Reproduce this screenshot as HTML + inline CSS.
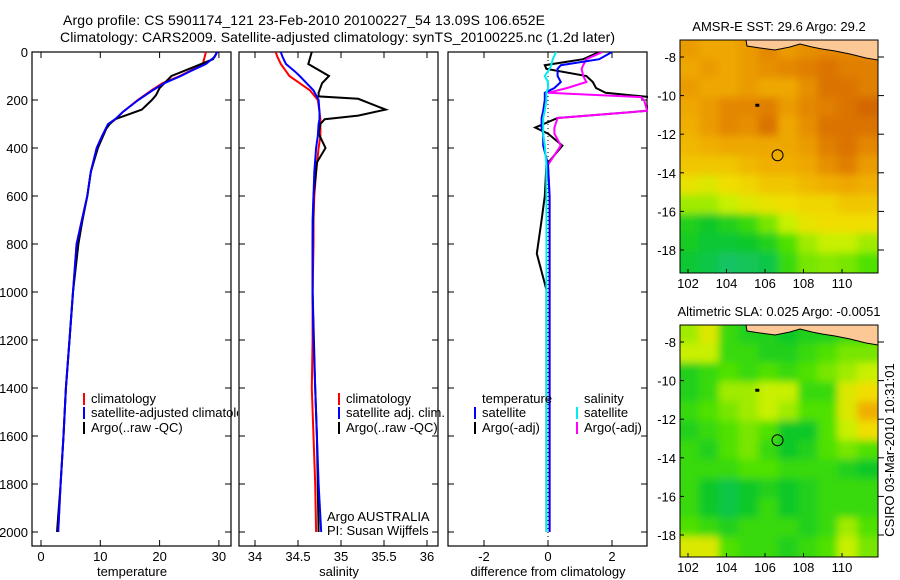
<!DOCTYPE html>
<html><head><meta charset="utf-8"><style>
body{margin:0;background:#fff}
svg{display:block;font-family:"Liberation Sans",sans-serif}
</style></head><body>
<svg id="fig" width="900" height="580" viewBox="0 0 900 580" xmlns="http://www.w3.org/2000/svg">
<defs>
<clipPath id="c1"><rect x="32" y="52" width="206" height="494"/></clipPath>
<clipPath id="c2"><rect x="239" y="52" width="200" height="494"/></clipPath>
<clipPath id="c3"><rect x="448" y="52" width="200" height="494"/></clipPath>
<clipPath id="cm1"><rect x="680" y="40" width="198" height="233"/></clipPath>
<clipPath id="cm2"><rect x="680" y="325" width="198" height="232"/></clipPath>
<filter id="bl" x="-20%" y="-20%" width="140%" height="140%"><feGaussianBlur stdDeviation="4"/></filter>
</defs>
<text x="63" y="25" font-size="14" textLength="482">Argo profile: CS 5901174_121 23-Feb-2010 20100227_54 13.09S 106.652E</text>
<text x="60" y="42" font-size="14" textLength="555">Climatology: CARS2009. Satellite-adjusted climatology: synTS_20100225.nc (1.2d later)</text>
<g id="root"></g>
<text transform="translate(894,450) rotate(-90)" font-size="13" text-anchor="middle">CSIRO 03-Mar-2010 10:31:01</text>
</svg>
<script>
// ---- profile data ----
const depthClim = [0,20,50,80,100,130,160,200,250,280,300,350,400,500,600,700,800,1000,1200,1400,1600,1800,2000];
const tempClim  = [27.8,27.6,27.3,25,23.4,20.5,18.6,16.3,13.8,12.6,11.4,10.3,9.4,8.4,7.8,6.9,6,5.4,4.8,4.2,3.8,3.3,2.9];
const tempSat   = [29.7,29.3,27.8,25.2,23.6,20.8,18.8,16.4,13.8,12.5,11.3,10.3,9.4,8.4,7.8,6.9,6,5.4,4.8,4.2,3.8,3.3,2.9];
const depthArgo = [0,30,60,100,150,180,200,240,280,300,320,400,500,600,700,800,1000,1200,1400,1600,1800,2000];
const tempArgo  = [29.7,29,26,22,20,19.4,18.7,17,12.5,11.6,11,9.6,8.4,7.8,7,6.3,5.4,4.8,4.2,3.8,3.3,2.7];
const salClim   = [34.24,34.26,34.3,34.36,34.4,34.52,34.64,34.73,34.75,34.76,34.76,34.76,34.74,34.71,34.69,34.68,34.68,34.67,34.67,34.66,34.68,34.7,34.71];
const salSat    = [34.3,34.32,34.36,34.46,34.52,34.6,34.68,34.74,34.75,34.75,34.74,34.73,34.71,34.69,34.68,34.67,34.67,34.67,34.68,34.7,34.72,34.74,34.77];
const depthSalArgo = [0,50,100,130,170,185,195,240,265,280,300,340,400,460,500,600,800,1000,1400,1600,2000];
const salArgo   = [34.66,34.62,34.86,34.78,34.74,34.74,35.2,35.52,35.2,34.81,34.76,34.74,34.82,34.72,34.71,34.68,34.67,34.67,34.7,34.72,34.74];
const depthDiff = [0,30,55,70,100,125,150,170,188,200,245,275,315,340,390,470,600,700,840,990,1200,1600,2000];
const diffTArgo = [1.6,1.1,-0.1,-0.05,1.2,1.4,1.5,1.8,3.2,3.2,3.1,0.3,-0.4,0,0.45,-0.05,-0.1,-0.2,-0.35,-0.05,-0.05,-0.05,-0.05];
const diffSArgo = [1.7,1.2,1.1,1.05,1.1,1.2,0.6,0,2.9,3.0,3.1,0.3,0.2,0.2,0.4,0,0.05,0.05,0.05,0.05,0.05,0.05,0.05];
const diffTSat  = [2.0,1.6,0.4,0.3,0.3,0.4,0.2,-0.1,-0.1,-0.1,-0.15,-0.2,-0.2,-0.15,-0.15,0,0.05,0.05,0.05,0.05,0.05,0.05,0.05];
const diffSSat  = [0.25,0.15,0.1,0.05,-0.1,0,0,-0.05,-0.05,-0.05,-0.1,-0.15,-0.15,-0.15,-0.1,-0.05,-0.05,-0.05,-0.05,-0.05,-0.05,-0.05,-0.05];
const depthTicks = [0,200,400,600,800,1000,1200,1400,1600,1800,2000];
const tempTicks = [0,10,20,30];
const salTicks = [34,34.5,35,35.5,36];
const diffTicks = [-2,0,2];
// ---- map data (normalized colour index 0..1) ----
const sstGrid = [
[.75,.72,.72,.75,.8,.75,.78,.8,.8,.8],
[.72,.75,.72,.75,.78,.8,.82,.85,.82,.82],
[.75,.72,.72,.75,.72,.72,.78,.85,.85,.82],
[.72,.75,.8,.8,.82,.75,.8,.82,.85,.88],
[.7,.75,.8,.78,.85,.72,.78,.85,.85,.85],
[.68,.7,.72,.72,.72,.72,.75,.82,.85,.8],
[.65,.65,.65,.68,.7,.7,.72,.78,.82,.75],
[.58,.55,.6,.62,.65,.65,.68,.7,.72,.7],
[.45,.45,.5,.55,.58,.6,.62,.62,.65,.65],
[.25,.2,.25,.3,.4,.5,.58,.6,.6,.6],
[.22,.18,.18,.2,.25,.35,.45,.5,.5,.45],
[.18,.15,.1,.12,.15,.3,.4,.42,.4,.35]];
const slaGrid = [
[.45,.55,.3,.25,.25,.2,.25,.25,.3,.3],
[.5,.5,.3,.3,.25,.25,.3,.35,.4,.4],
[.25,.3,.35,.3,.35,.3,.35,.4,.45,.5],
[.25,.3,.45,.45,.5,.5,.3,.3,.55,.6],
[.3,.35,.4,.45,.5,.45,.35,.35,.55,.7],
[.25,.3,.35,.4,.35,.2,.2,.35,.5,.6],
[.3,.25,.35,.4,.3,.2,.25,.35,.4,.35],
[.3,.3,.3,.35,.35,.3,.3,.3,.25,.2],
[.3,.2,.15,.2,.25,.2,.25,.3,.3,.3],
[.3,.2,.15,.2,.3,.2,.25,.3,.3,.3],
[.35,.3,.25,.3,.3,.3,.25,.3,.45,.35],
[.55,.55,.35,.3,.3,.25,.3,.35,.5,.4]];
const lonTicks = [102,104,106,108,110];
const latTicks = [-8,-10,-12,-14,-16,-18];
const floatLon = 106.652, floatLat = -13.09;

const NS="http://www.w3.org/2000/svg";
const root=document.getElementById('root');
function mk(tag,attrs,parent){const e=document.createElementNS(NS,tag);for(const k in attrs)e.setAttribute(k,attrs[k]);(parent||root).appendChild(e);return e;}
const yD=d=>52+d*0.24;
function panel(x0,name,xs,ticks,fmt,label,clip,ylabels){
  const g=mk('g',{});
  
  
  mk('rect',{x:x0,y:52,width:199,height:494,fill:'none',stroke:'#000','stroke-width':1.2},g);
  depthTicks.forEach(d=>{
    const y=yD(d);
    mk('line',{x1:x0,x2:x0+6,y1:y,y2:y,stroke:'#000'},g);
    mk('line',{x1:x0+199,x2:x0+193,y1:y,y2:y,stroke:'#000'},g);
    if(ylabels){const t=mk('text',{x:x0-4,y:y+5,'font-size':13,'text-anchor':'end'},g);t.textContent=d;
      
      }
  });
  ticks.forEach(v=>{
    const x=xs(v);
    mk('line',{x1:x,x2:x,y1:546,y2:540,stroke:'#000'},g);
    mk('line',{x1:x,x2:x,y1:52,y2:58,stroke:'#000'},g);
    const t=mk('text',{x:x,y:561,'font-size':13,'text-anchor':'middle'},g);t.textContent=fmt(v);
    
    
  });
  const t=mk('text',{x:x0+100,y:576,'font-size':13,'text-anchor':'middle'},g);t.textContent=label;
  
  
  return g;
}
function line(xs,vals,depths,color,name,clip,w){
  const p=vals.map((v,i)=>(i?'L':'M')+xs(v).toFixed(1)+','+yD(depths[i]).toFixed(1)).join('');
  const e=mk('path',{d:p,fill:'none',stroke:color,'stroke-width':w||2,'clip-path':'url(#'+clip+')'});
  
  
}
const xT=v=>41+5.93*v, xS=v=>255+86*(v-34), xF=v=>548+32*v;
panel(32,'temperature-panel',xT,tempTicks,v=>v,'temperature','c1',true);
panel(239,'salinity-panel',xS,salTicks,v=>v,'salinity','c2',false);
panel(448,'difference-panel',xF,diffTicks,v=>v,'difference from climatology','c3',false);
mk('line',{x1:xF(0),x2:xF(0),y1:52,y2:546,stroke:'#000','stroke-dasharray':'1,3'});
line(xT,tempClim,depthClim,'#f00','temp-climatology-line','c1');
line(xT,tempArgo,depthArgo,'#000','temp-argo-line','c1');
line(xT,tempSat,depthClim,'#00f','temp-satellite-line','c1');
line(xS,salClim,depthClim,'#f00','sal-climatology-line','c2');
line(xS,salArgo,depthSalArgo,'#000','sal-argo-line','c2');
line(xS,salSat,depthClim,'#00f','sal-satellite-line','c2');
line(xF,diffTArgo,depthDiff,'#000','diff-temp-argo-line','c3');
line(xF,diffSArgo,depthDiff,'#f0f','diff-sal-argo-line','c3');
line(xF,diffTSat,depthDiff,'#00f','diff-temp-sat-line','c3');
line(xF,diffSSat,depthDiff,'#0ee','diff-sal-sat-line','c3');
function leg(x,y,color,txt,name,clip){
  const g=mk('g',clip?{'clip-path':'url(#'+clip+')'}:{});
  
  
  if(color)mk('rect',{x:x,y:y-10,width:2,height:12,fill:color},g);
  const t=mk('text',{x:x+(color?8:0),y:y,'font-size':13},g);t.textContent=txt;
}
leg(83,403,'#f00','climatology','legend-temp-climatology','c1');
leg(83,417,'#00f','satellite-adjusted climatology','legend-temp-satellite','c1');
leg(83,432,'#000','Argo(..raw -QC)','legend-temp-argo','c1');
leg(338,403,'#f00','climatology','legend-sal-climatology');
leg(338,417,'#00f','satellite adj. clim.','legend-sal-satellite');
leg(338,432,'#000','Argo(..raw -QC)','legend-sal-argo');
leg(327,521,null,'Argo AUSTRALIA','institution-label');
leg(327,535,null,'PI: Susan Wijffels','pi-label');
leg(482,403,null,'temperature','legend-temperature-heading');
leg(474,417,'#00f','satellite','legend-diff-temp-sat');
leg(474,432,'#000','Argo(-adj)','legend-diff-temp-argo');
leg(584,403,null,'salinity','legend-salinity-heading');
leg(576,417,'#0ee','satellite','legend-diff-sal-sat');
leg(576,432,'#f0f','Argo(-adj)','legend-diff-sal-argo');
const stops=[[0,[30,190,160]],[0.2,[10,200,40]],[0.35,[80,225,0]],[0.5,[200,240,0]],[0.6,[240,222,0]],[0.7,[240,175,0]],[0.8,[228,135,0]],[0.9,[208,95,0]],[1,[180,20,0]]];
function cmap(v){for(let i=1;i<stops.length;i++){if(v<=stops[i][0]){const a=stops[i-1],b=stops[i],f=(v-a[0])/(b[0]-a[0]);return 'rgb('+a[1].map((c,k)=>Math.round(c+(b[1][k]-c)*f)).join(',')+')';}}return 'rgb(180,20,0)';}
function map(y0,h,grid,title,name,clip){
  const lon2x=l=>688+(l-102)*19.25;
  const lat2y=l=>y0+17+(-8-l)*19.3;
  const g=mk('g',{});
  
  
  const gc=mk('g',{'clip-path':'url(#'+clip+')'},g);
  const gb=mk('g',{filter:'url(#bl)'},gc);
  const nr=grid.length,nc=grid[0].length;
  const cw=198/nc, ch=h/nr;
  grid.forEach((row,r)=>row.forEach((v,c)=>{
    const pad=20;
    const x=680+c*cw-(c==0?pad:1), y=y0+r*ch-(r==0?pad:1);
    const w=cw+2+(c==0?pad:0)+(c==nc-1?pad:0), hh=ch+2+(r==0?pad:0)+(r==nr-1?pad:0);
    const cell=mk('rect',{x:x,y:y,width:w,height:hh,fill:cmap(v)},gb);
    
    
  }));
  const land=mk('path',{d:`M746,${y0} L747,${y0+6} L760,${y0+8} L775,${y0+10} L790,${y0+7} L800,${y0+4} L812,${y0+7} L822,${y0+9} L835,${y0+11} L850,${y0+14} L866,${y0+18} L878,${y0+20} L878,${y0} Z`,fill:'#fcc896',stroke:'#000','stroke-width':1},gc);
  
  
  const c=mk('circle',{cx:lon2x(floatLon),cy:lat2y(floatLat),r:5.5,fill:'none',stroke:'#000','stroke-width':1},gc);
  
  
  mk('rect',{x:lon2x(105.6)-2,y:lat2y(-10.5)-1.5,width:4,height:3,fill:'#000'},gc);
  mk('rect',{x:680,y:y0,width:198,height:h,fill:'none',stroke:'#000'},g);
  lonTicks.forEach(l=>{const x=lon2x(l);mk('line',{x1:x,x2:x,y1:y0+h,y2:y0+h-4,stroke:'#000'},g);
    const t=mk('text',{x:x,y:y0+h+15,'font-size':13,'text-anchor':'middle'},g);t.textContent=l;
    
    });
  latTicks.forEach(l=>{const y=lat2y(l);mk('line',{x1:878,x2:884,y1:y,y2:y,stroke:'#000'},g);mk('line',{x1:680,x2:684,y1:y,y2:y,stroke:'#000'},g);
    const t=mk('text',{x:676,y:y+5,'font-size':13,'text-anchor':'end'},g);t.textContent=l;
    
    });
  const t=mk('text',{x:779,y:y0-9,'font-size':13,'text-anchor':'middle'},g);t.textContent=title;
  
  
}
map(40,233,sstGrid,'AMSR-E SST: 29.6 Argo: 29.2','sst-map','cm1');
map(325,232,slaGrid,'Altimetric SLA: 0.025 Argo: -0.0051','sla-map','cm2');
</script>
</body></html>
